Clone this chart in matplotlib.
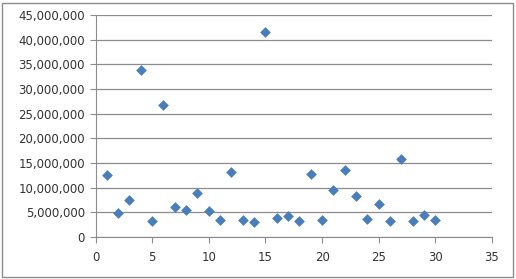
import matplotlib.pyplot as plt
from matplotlib.ticker import FuncFormatter, MultipleLocator
from matplotlib.patches import Rectangle

# data
x_vals = list(range(1, 31))
y_vals = [12.6, 4.86, 7.4, 33.8, 3.24, 26.7, 6.08, 5.5, 9.0, 5.3,
          3.4, 13.2, 3.4, 3.1, 41.55, 3.8, 4.26, 3.2, 12.8, 3.5,
          9.5, 13.6, 8.4, 3.6, 6.6, 3.2, 15.8, 3.3, 4.46, 3.4]
y_vals = [v * 1e6 for v in y_vals]

fig = plt.figure(figsize=(5.16, 2.79), dpi=100)
ax = fig.add_axes([95.5 / 516, 1 - 237 / 279, (492 - 95.5) / 516, (237 - 15) / 279])

ax.scatter(x_vals, y_vals, marker='D', s=30, color='#4a7ebb', zorder=3, linewidths=0)

ax.set_xlim(0, 35)
ax.set_ylim(0, 45e6)
ax.xaxis.set_major_locator(MultipleLocator(5))
ax.yaxis.set_major_locator(MultipleLocator(5e6))
ax.yaxis.set_major_formatter(FuncFormatter(lambda v, p: f'{int(v):,}'))

ax.grid(axis='y', color='#8c8c8c', linewidth=0.9)
ax.set_axisbelow(True)
for s in ['top', 'right']:
    ax.spines[s].set_visible(False)
for s in ['left', 'bottom']:
    ax.spines[s].set_color('#8c8c8c')
ax.tick_params(axis='both', colors='#8c8c8c', length=4, labelsize=8.5, labelcolor='#333333')
ax.tick_params(axis='x', pad=6)

# chart border
fig.patches.append(Rectangle((2 / 516, 2 / 279), 511 / 516, 274 / 279, transform=fig.transFigure,
                             fill=False, edgecolor='#8c8c8c', linewidth=1))

fig.savefig('out.png', dpi=100)
